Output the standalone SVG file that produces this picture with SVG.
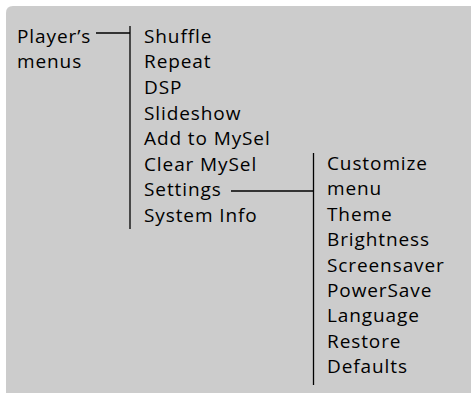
<svg xmlns="http://www.w3.org/2000/svg" width="471" height="393" viewBox="0 0 471 393">
<style>
text{font-family:"Open Sans","Noto Sans",sans-serif;font-size:19px;letter-spacing:0.9px;fill:#000}
.ln{stroke:#000;stroke-width:1.3;fill:none}
</style>
<rect width="471" height="393" fill="#fff"/>
<path d="M6 13 Q6 6 13 6 H471 V393 H6 Z" fill="#cccccc"/>
<g id="connectors">
<line class="ln" x1="96" y1="33" x2="130" y2="33"/>
<line class="ln" x1="130" y1="26" x2="130" y2="229"/>
<line class="ln" x1="231" y1="191" x2="313.5" y2="191"/>
<line class="ln" x1="313.5" y1="153" x2="313.5" y2="385"/>
</g>
<g id="root"><text x="17" y="42.7">Player’s</text><text x="17" y="68.3">menus</text></g>
<g id="menu">
<text x="144" y="42.7">Shuffle</text>
<text x="144" y="68.3">Repeat</text>
<text x="144" y="94">DSP</text>
<text x="144" y="119.6">Slideshow</text>
<text x="144" y="145.2">Add to MySel</text>
<text x="144" y="170.8">Clear MySel</text>
<text x="144" y="196.4">Settings</text>
<text x="144" y="222">System Info</text>
</g>
<g id="settings">
<text x="327" y="170">Customize</text>
<text x="327" y="195.4">menu</text>
<text x="327" y="220.8">Theme</text>
<text x="327" y="246.2">Brightness</text>
<text x="327" y="271.6">Screensaver</text>
<text x="327" y="297">PowerSave</text>
<text x="327" y="322.4">Language</text>
<text x="327" y="347.8">Restore</text>
<text x="327" y="373.2">Defaults</text>
</g>
</svg>
